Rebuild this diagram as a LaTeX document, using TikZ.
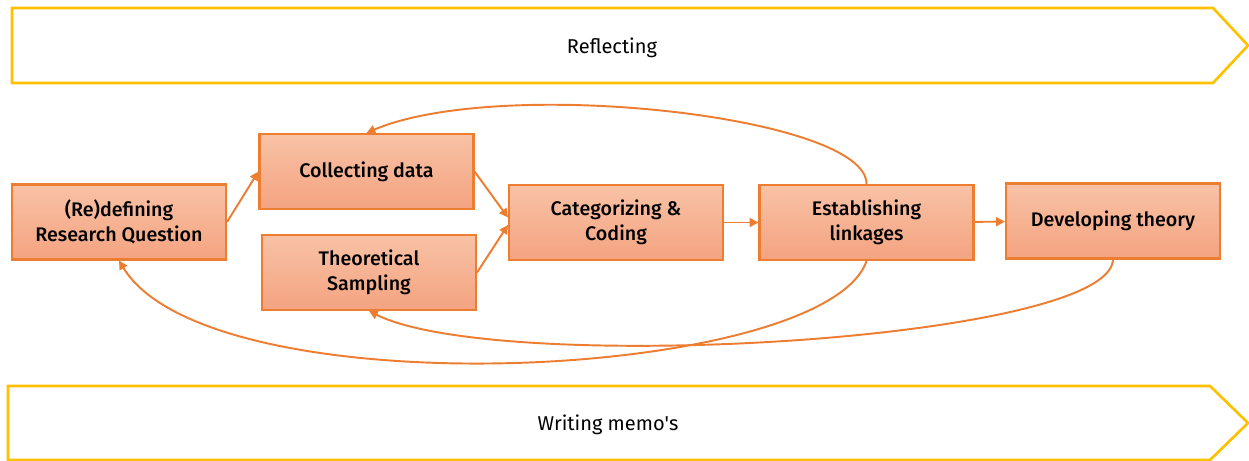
\documentclass[tikz,border=0pt]{standalone}
\usepackage{fontspec}
\setmainfont{Fira Sans}
\newfontfamily\stagefont{Fira Sans Medium}
\usetikzlibrary{arrows.meta}
\definecolor{accent}{HTML}{ED7D31}
\definecolor{band}{HTML}{FFC000}
\definecolor{boxtop}{HTML}{F8C2A6}
\definecolor{boxbot}{HTML}{F4A380}
\begin{document}
\begin{tikzpicture}[
    stage/.style={draw=accent, line width=1.2pt, top color=boxtop, bottom color=boxbot,
        minimum width=4.28cm, minimum height=1.5cm, align=center, font=\stagefont\fontsize{11.2}{14.2}\selectfont},
    flow/.style={accent, line width=1.1pt, -{Triangle[length=5pt, width=5pt]}},
    bandline/.style={band, line width=1.5pt, line join=miter},
    bandtext/.style={font=\fontsize{11.4}{13}\selectfont}
]
    \useasboundingbox (0, 0) rectangle (24.98, 9.22);
    % the two long bands
    \draw[bandline] (0.24, 9.06) -- (24.26, 9.06) -- (24.96, 8.31) -- (24.26, 7.56) -- (0.24, 7.56) -- cycle;
    \node[bandtext] (reflect) at (12.24, 8.27) {Reflecting};
    \draw[bandline] (0.16, 1.5) -- (24.2, 1.5) -- (24.96, 0.76) -- (24.2, 0.02) -- (0.16, 0.02) -- cycle;
    \node[bandtext] (memo) at (12.16, 0.73) {Writing memo\textquotesingle s};
    % steps
    \node[stage] (rq) at (2.38, 4.78) {(Re)defining\\Research Question};
    \node[stage] (coll) at (7.33, 5.79) {Collecting data};
    \node[stage] (theo) at (7.38, 3.77) {Theoretical\\Sampling};
    \node[stage] (cat) at (12.32, 4.77) {Categorizing \&\\Coding};
    \node[stage] (est) at (17.33, 4.77) {Establishing\\linkages};
    \node[stage] (dev) at (22.26, 4.8) {Developing theory};
    \draw[flow] (rq.east) -- (coll.west);
    \draw[flow] (coll.east) -- ([yshift=0.1cm]cat.west);
    \draw[flow] (theo.east) -- ([yshift=-0.05cm]cat.west);
    \draw[flow] (cat) -- (est);
    \draw[flow] (est) -- (dev);
    % loops back
    \draw[flow] (est.north) .. controls (17.33, 6.9) and (10, 7.7) .. (coll.north);
    \draw[flow] (est.south) .. controls (16.5, 1.6) and (4.2, 1.0) .. (rq.south);
    \draw[flow] (dev.south) .. controls (22.2, 2.4) and (10, 1.7) .. (theo.south);
\end{tikzpicture}
\end{document}
